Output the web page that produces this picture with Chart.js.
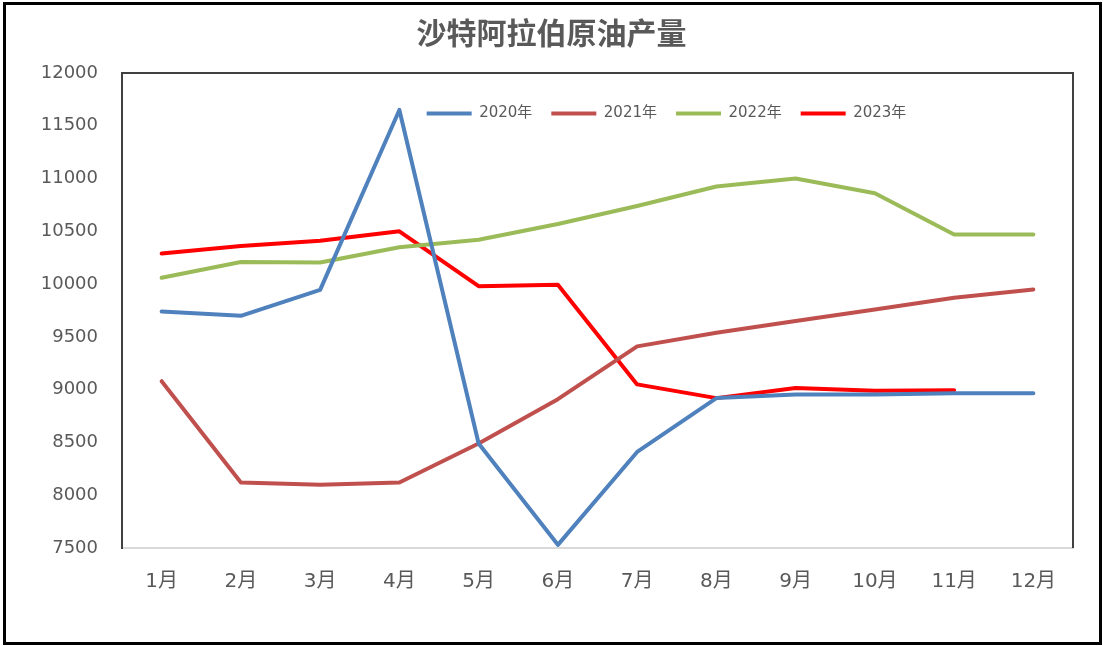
<!DOCTYPE html>
<html>
<head>
<meta charset="utf-8">
<script src="https://cdn.jsdelivr.net/npm/chart.js@4/dist/chart.umd.min.js"></script>
<style>
  html, body { margin: 0; padding: 0; background: #ffffff; }
  #wrap { position: relative; width: 1103px; height: 646px; }
  canvas { display: block; }
</style>
</head>
<body>
<div id="wrap"><canvas id="c" width="1103" height="646"></canvas></div>
<script>
const titleText = '沙特阿拉伯原油产量';
const months = ['1月','2月','3月','4月','5月','6月','7月','8月','9月','10月','11月','12月'];
const seriesNames = ['2020年','2021年','2022年','2023年'];
const y2020 = [9740, 9700, 9945, 11650, 8490, 7530, 8410, 8920, 8955, 8955, 8965, 8965];
const y2021 = [9080, 8120, 8100, 8120, 8490, 8910, 9410, 9540, 9650, 9760, 9870, 9950];
const y2022 = [10060, 10210, 10205, 10350, 10420, 10570, 10740, 10925, 11000, 10860, 10470, 10470];
const y2023 = [10290, 10360, 10410, 10500, 9980, 9995, 9050, 8920, 9015, 8990, 8995, null];
const yTicks = [7500, 8000, 8500, 9000, 9500, 10000, 10500, 11000, 11500, 12000];
const colors = ['#4F81BD', '#C0504D', '#9BBB59', '#FF0000'];

const FONT = "'DejaVu Sans', 'Noto Sans CJK SC', sans-serif";
const GRAY = '#595959';

function ds(label, data, color) {
  return {
    label: label,
    data: data,
    borderColor: color,
    backgroundColor: color,
    borderWidth: 4,
    pointRadius: 0,
    pointHoverRadius: 0,
    tension: 0,
    borderCapStyle: 'round',
    borderJoinStyle: 'round',
    spanGaps: false,
    fill: false,
    yAxisID: 'y'
  };
}

const framePlugin = {
  id: 'frame',
  beforeUpdate(chart) {
    if (chart.legend) chart.legend.isHorizontal = () => true;
  },
  afterLayout(chart) {
    const lg = chart.legend;
    if (lg) {
      const dx = 191, dy = 14;
      lg.left += dx; lg.right += dx;
      lg.top += dy; lg.bottom += dy;
    }
  },
  beforeDatasetsDraw(chart) {
    const {ctx, chartArea: a} = chart;
    ctx.save();
    ctx.strokeStyle = '#404040';
    ctx.lineWidth = 2;
    ctx.beginPath();
    ctx.moveTo(a.left, a.top);
    ctx.lineTo(a.right, a.top);
    ctx.lineTo(a.right, a.bottom);
    ctx.stroke();
    ctx.restore();
  },
  afterDraw(chart) {
    const ctx = chart.ctx;
    ctx.save();
    ctx.strokeStyle = '#000000';
    ctx.lineWidth = 3;
    ctx.strokeRect(4.5, 3.5, 1096, 640);
    ctx.restore();
  }
};

new Chart(document.getElementById('c'), {
  type: 'line',
  data: {
    labels: months,
    datasets: [
      ds(seriesNames[0], y2020, colors[0]),
      ds(seriesNames[1], y2021, colors[1]),
      ds(seriesNames[2], y2022, colors[2]),
      ds(seriesNames[3], y2023, colors[3])
    ]
  },
  options: {
    responsive: false,
    animation: false,
    devicePixelRatio: 1,
    layout: { padding: 0 },
    plugins: {
      title: {
        display: true,
        text: titleText,
        color: GRAY,
        font: { family: "'Noto Sans CJK SC', sans-serif", size: 30, weight: 'bold', lineHeight: 1.2 },
        padding: { top: 15, bottom: 22 }
      },
      legend: {
        display: true,
        position: 'chartArea',
        align: 'center',
        labels: {
          usePointStyle: true,
          pointStyle: 'line',
          pointStyleWidth: 45,
          boxHeight: 15,
          color: GRAY,
          padding: 19,
          font: { family: FONT, size: 15 }
        }
      },
      tooltip: { enabled: false }
    },
    scales: {
      x: {
        type: 'category',
        offset: true,
        grid: { display: false, drawTicks: false },
        border: { display: true, color: '#d9d9d9', width: 2 },
        ticks: { color: GRAY, font: { family: FONT, size: 20 }, padding: 22, maxRotation: 0, autoSkip: false },
        afterFit(s) { s.height = 98; }
      },
      y: {
        position: 'left',
        min: 7500,
        max: 12000,
        afterBuildTicks(s) { s.ticks = yTicks.map(v => ({ value: v })); },
        grid: { display: false, drawTicks: false },
        border: { display: true, color: '#404040', width: 2 },
        ticks: { color: GRAY, font: { family: FONT, size: 18 }, padding: 24, callback: v => String(v) },
        afterFit(s) { s.width = 122; }
      },
      yRight: {
        position: 'right',
        min: 7500,
        max: 12000,
        grid: { display: false, drawTicks: false },
        border: { display: false },
        ticks: { display: false },
        afterFit(s) { s.width = 30; }
      }
    }
  },
  plugins: [framePlugin]
});
</script>
</body>
</html>
